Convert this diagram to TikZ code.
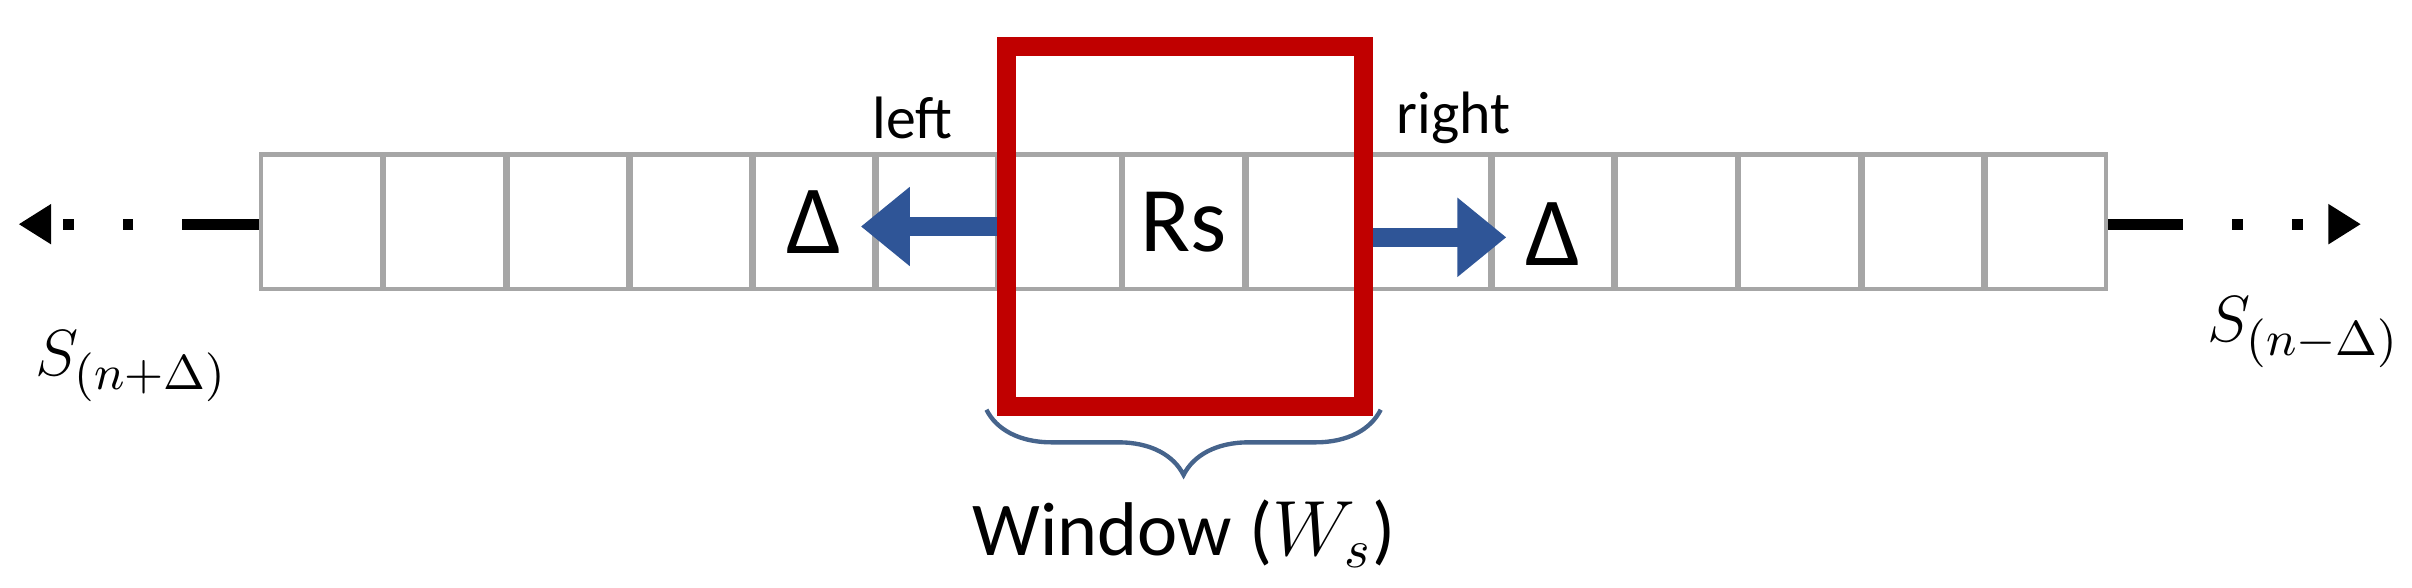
\documentclass[tikz,border=0pt]{standalone}
\usepackage{fontspec}
\setmainfont{Carlito}
\usetikzlibrary{positioning,decorations.pathreplacing,arrows.meta}
\definecolor{winred}{RGB}{192,0,0}
\definecolor{arrowblue}{RGB}{47,85,151}
\definecolor{bracegray}{RGB}{70,100,140}
\begin{document}
\begin{tikzpicture}[x=0.01cm,y=-0.01cm,
    cell/.style={draw=gray!70,fill=white,minimum width=0.797cm,minimum height=0.87cm,inner sep=0pt,line width=0.8pt},
    move/.style={arrowblue,line width=3.5pt,-{Triangle[length=9pt,width=14pt]}},
    tail/.style={line width=2pt,-{Triangle[length=6pt,width=7pt]}}]
    \useasboundingbox (0,0) rectangle (1560,380);
    \def\cellw{79.67} % width of one cell
    \foreach \i in {1,...,15} {
        \node[cell,minimum width=0.78cm] (c\i) at ({168+(\i-0.5)*\cellw},143.5) {};
    }
    \node[font=\fontsize{18}{18}\selectfont] (dl) at (c5) {Δ};
    \node[font=\fontsize{18}{18}\selectfont,yshift=-0.08cm] (dr) at (c11) {Δ};
    \node[font=\fontsize{17}{17}\selectfont] (rs) at (c8) {Rs};

    \node[draw=winred,line width=3.5pt,minimum width=2.31cm,minimum height=2.33cm,inner sep=0pt] (win) at (766.5,146.5) {};
    \node[font=\fontsize{11}{11}\selectfont] (left) at (590,76) {left};
    \node[font=\fontsize{11}{11}\selectfont] (right) at (940,76) {right};

    \draw[move] (win.west) -- (win.west -| dl.east);
    \draw[move] ([yshift=-0.07cm]win.east) -- ([yshift=-0.07cm]win.east -| dr.west);

    % open ends of the strip
    \coordinate (le) at (125,145);
    \coordinate (la) at (12,145);
    \coordinate (re) at (1405,145);
    \coordinate (ra) at (1527,145);
    \draw[line width=2pt] (c1.west |- le) -- (le);
    \draw[tail,dash pattern=on 2pt off 9pt] (le) -- (la);
    \draw[line width=2pt] (c15.east |- re) -- (re);
    \draw[tail,dash pattern=on 2pt off 9pt] (re) -- (ra);
    \node[font=\fontsize{13}{13}\selectfont] (sl) at (85,237) {$S_{(n+\Delta)}$};
    \node[font=\fontsize{13}{13}\selectfont] (sr) at (1490,215) {$S_{(n-\Delta)}$};

    % window brace
    \coordinate (bl) at (638,265);
    \coordinate (br) at (893,265);
    \draw[bracegray,line width=0.8pt,decorate,decoration={brace,mirror,amplitude=12pt}] (bl) -- (br);
    \node[font=\fontsize{14}{14}\selectfont] (wl) at (766,345) {Window ($W_s$)};
\end{tikzpicture}
\end{document}
